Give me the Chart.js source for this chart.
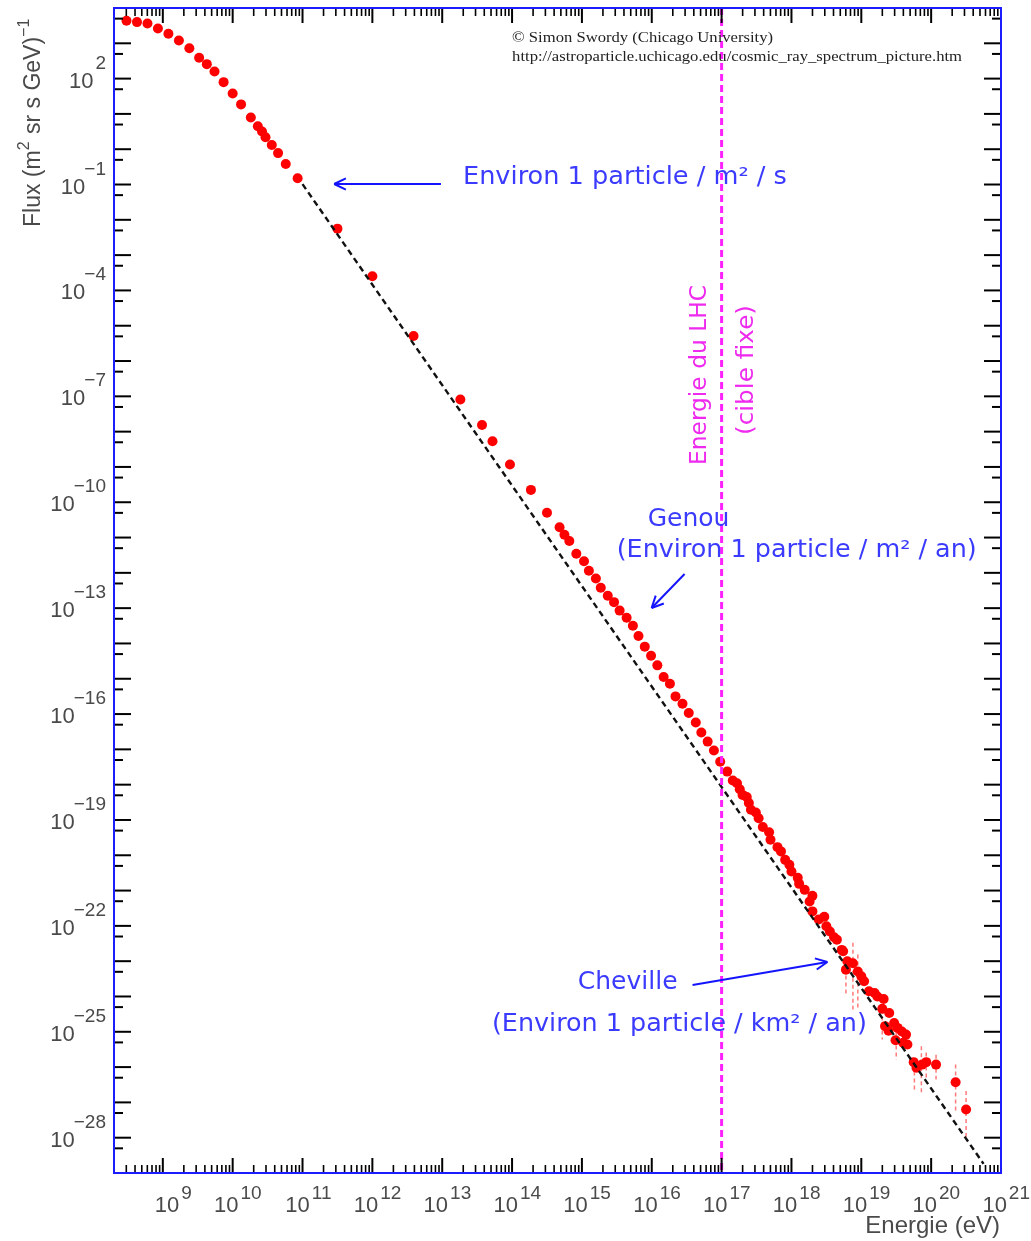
<!DOCTYPE html>
<html><head><meta charset="utf-8">
<script src="https://cdn.jsdelivr.net/npm/chart.js@4.4.1/dist/chart.umd.min.js"></script>
<style>html,body{margin:0;padding:0;background:#fff;}#wrap{width:1031px;height:1241px;position:relative;}</style>
</head><body><div id="wrap"><canvas id="c" width="1031" height="1241"></canvas></div>
<script>
// ---- data (log10 values) ----
const logEnergy = [8.48,8.63,8.78,8.93,9.08,9.23,9.38,9.52,9.63,9.74,
 9.87,10.00,10.12,10.26,10.36,10.42,10.47,10.56,10.65,10.76,
 10.93,11.50,12.00,12.59,13.26,13.57,13.72,13.97,14.27,14.50,
 14.68,14.75,14.82,14.92,15.03,15.10,15.20,15.27,15.37,15.46,
 15.54,15.64,15.73,15.81,15.90,15.99,16.08,16.17,16.26,16.34,
 16.44,16.53,16.63,16.71,16.80,16.89,16.98,17.08,17.16,17.22,
 17.26,17.30,17.36,17.39,17.42,17.49,17.53,17.59,17.68,17.70,
 17.80,17.85,17.91,17.97,18.00,18.09,18.11,18.19,18.26,18.30,
 18.30,18.39,18.47,18.50,18.55,18.61,18.65,18.72,18.74,18.80,
 18.78,18.88,18.95,19.00,19.04,19.11,19.19,19.23,19.32,19.30,
 19.40,19.34,19.39,19.47,19.52,19.58,19.64,19.49,19.60,19.66,
 19.75,19.79,19.87,19.93,20.07,20.35,20.50];
const logFlux = [3.64,3.60,3.56,3.42,3.27,3.08,2.86,2.59,2.41,2.20,
 1.90,1.58,1.27,0.90,0.65,0.50,0.34,0.12,-0.11,-0.42,
 -0.82,-2.25,-3.60,-5.29,-7.09,-7.81,-8.27,-8.93,-9.65,-10.30,
 -10.71,-10.92,-11.10,-11.46,-11.67,-11.94,-12.16,-12.42,-12.65,-12.83,
 -13.07,-13.27,-13.50,-13.79,-14.09,-14.35,-14.62,-14.95,-15.14,-15.50,
 -15.71,-15.97,-16.24,-16.52,-16.78,-17.03,-17.35,-17.63,-17.88,-17.96,
 -18.13,-18.29,-18.35,-18.52,-18.71,-18.79,-18.95,-19.20,-19.35,-19.56,
 -19.77,-19.89,-20.13,-20.27,-20.46,-20.64,-20.81,-20.98,-21.31,-21.15,
 -21.59,-21.82,-21.74,-22.01,-22.16,-22.32,-22.39,-22.68,-22.72,-23.00,
 -23.24,-23.06,-23.29,-23.43,-23.57,-23.85,-23.90,-24.00,-24.07,-24.35,
 -24.47,-24.84,-24.97,-24.75,-24.89,-24.99,-25.08,-25.24,-25.31,-25.36,
 -25.86,-26.02,-25.93,-25.86,-25.93,-26.43,-27.20];
const errLogEnergy = [18.78,18.88,18.95,19.30,19.50,19.76,19.86,19.93,20.07,20.35,20.50];
const errLogHigh   = [-23.01,-22.48,-22.81,-24.37,-24.99,-25.93,-25.41,-25.59,-25.65,-25.93,-26.68];
const errLogLow    = [-23.95,-24.37,-24.37,-25.22,-25.79,-26.72,-26.73,-26.35,-26.35,-27.29,-28.05];
const refLineLogE = [11.0, 20.75];
const refLineLogF = [-0.99, -28.74];
const lhcLogE = 17;
const xRange = [2e8, 1e21];
const yRange = [1e-29, 1e4];
const xTickExponents = [9,10,11,12,13,14,15,16,17,18,19,20,21];
const yTickExponents = [2,-1,-4,-7,-10,-13,-16,-19,-22,-25,-28];
const xTitle = "Energie (eV)";
const yTitleParts = ["Flux (m", "2", " sr s GeV)", "\u22121"];

const P = v => Math.pow(10, v);
const points = logEnergy.map((e,i)=>({x:P(e), y:P(logFlux[i])}));
const refLine = refLineLogE.map((e,i)=>({x:P(e), y:P(refLineLogF[i])}));
const lhcLine = [{x:P(lhcLogE), y:yRange[1]}, {x:P(lhcLogE), y:yRange[0]}];

function seg(ctx,x1,y1,x2,y2){ctx.beginPath();ctx.moveTo(x1,y1);ctx.lineTo(x2,y2);ctx.stroke();}
function fitText(ctx,text,x,y,w,font,align){
  ctx.font = font; const m = ctx.measureText(text).width; const s = w/m;
  ctx.save(); ctx.translate(x,y); ctx.scale(s,1); ctx.textAlign = align; ctx.fillText(text,0,0); ctx.restore();
}
function arrow(ctx,x1,y1,x2,y2){
  seg(ctx,x1,y1,x2,y2);
  const a = Math.atan2(y2-y1,x2-x1), L=13, h=0.45;
  seg(ctx,x2,y2,x2-L*Math.cos(a-h),y2-L*Math.sin(a-h));
  seg(ctx,x2,y2,x2-L*Math.cos(a+h),y2-L*Math.sin(a+h));
}

const decor = {
  id:'decor',
  beforeDatasetsDraw(chart){
    const {ctx, scales:{x,y}} = chart;
    ctx.save(); ctx.strokeStyle='#ff7b7b'; ctx.lineWidth=1.5; ctx.setLineDash([4,3]);
    errLogEnergy.forEach((e,i)=>{
      const px = x.getPixelForValue(P(e));
      seg(ctx,px,y.getPixelForValue(P(errLogHigh[i])),px,y.getPixelForValue(P(errLogLow[i])));
    });
    ctx.restore();
  },
  afterDraw(chart){
    const {ctx, chartArea:a, scales:{x,y}} = chart;
    const X = v=>x.getPixelForValue(P(v)), Y = v=>y.getPixelForValue(P(v));
    ctx.save();
    // ticks
    ctx.strokeStyle='#000';
    for(let d=8; d<=21; d++) for(let m=1; m<=9; m++){
      const v = m*P(d);
      if(v < xRange[0]*0.999 || v > xRange[1]*1.001) continue;
      const px = x.getPixelForValue(v); const len = m===1?15:8;
      ctx.lineWidth = m===1?2:1.6;
      seg(ctx,px,a.bottom,px,a.bottom-len); seg(ctx,px,a.top,px,a.top+len);
    }
    ctx.lineWidth=2;
    for(let n=-29; n<=4; n++){
      [[P(n),17],[5*P(n-1),9]].forEach(([v,len])=>{
        if(v < yRange[0]*0.999 || v > yRange[1]*1.001) return;
        const py = y.getPixelForValue(v);
        seg(ctx,a.left,py,a.left+len,py); seg(ctx,a.right,py,a.right-len,py);
      });
    }
    // frame
    ctx.strokeStyle='#1c1cff'; ctx.lineWidth=2;
    ctx.strokeRect(a.left,a.top,a.right-a.left,a.bottom-a.top);
    // tick labels
    ctx.fillStyle='#4a4a4a'; ctx.textBaseline='alphabetic'; ctx.textAlign='left';
    const baseFont='22px "Liberation Sans", Arial, sans-serif', supFont='19px "Liberation Sans", Arial, sans-serif';
    function pow(exp, right, bBase, bSup){
      const st = exp<0 ? '\u2212'+Math.abs(exp) : String(exp);
      ctx.font=supFont; const sw = ctx.measureText(st).width;
      ctx.font=baseFont; const bw = ctx.measureText('10').width;
      const gap = exp<0 ? -1 : 2;
      const sx = right - sw, bx = sx - gap - bw;
      ctx.fillText('10', bx, bBase); ctx.font=supFont; ctx.fillText(st, sx, bSup);
    }
    xTickExponents.forEach(e=>{ const px = X(e); pow(e, px+29, a.bottom+39, a.bottom+26); });
    yTickExponents.forEach(e=>{ const py = Y(e); pow(e, a.left-8, py+9, py-10); });
    // axis titles
    ctx.font='24px "Liberation Sans", Arial, sans-serif'; ctx.textAlign='right';
    ctx.fillText(xTitle, a.right-1, a.bottom+60);
    ctx.save(); ctx.translate(40, 227); ctx.rotate(-Math.PI/2); ctx.textAlign='left';
    let cx=0;
    yTitleParts.forEach((t,i)=>{
      const sup = i%2===1; ctx.font = sup ? '16px "Liberation Sans", Arial, sans-serif' : '23px "Liberation Sans", Arial, sans-serif';
      ctx.fillText(t, cx, sup?-11:0); cx += ctx.measureText(t).width + (sup?1:0);
    });
    ctx.restore();
    // copyright
    ctx.fillStyle='#222'; ctx.textBaseline='middle';
    fitText(ctx,'\u00a9 Simon Swordy (Chicago University)', X(14.0), Y(3.15), 261, '15px "Liberation Serif", "Times New Roman", serif','left');
    fitText(ctx,'http://astroparticle.uchicago.edu/cosmic_ray_spectrum_picture.htm', X(14.0), Y(2.61), 450, '15px "Liberation Serif", "Times New Roman", serif','left');
    // blue annotations
    const bf = '24px "DejaVu Sans", sans-serif';
    ctx.fillStyle='#3b3bff';
    fitText(ctx,'Environ 1 particle / m\u00b2 / s', X(13.297), Y(-0.815), 324, bf, 'left');
    ctx.font='25px "DejaVu Sans", sans-serif'; ctx.textAlign='center';
    ctx.fillText('Genou', X(16.527), Y(-10.475));
    ctx.fillText('Cheville', X(15.655), Y(-23.618));
    fitText(ctx,'(Environ 1 particle / m\u00b2 / an)', X(15.498), Y(-11.381), 360, bf, 'left');
    fitText(ctx,'(Environ 1 particle / km\u00b2 / an)', X(13.711), Y(-24.808), 375, bf, 'left');
    ctx.strokeStyle='#1414ff'; ctx.lineWidth=2;
    arrow(ctx, X(12.982), Y(-0.985), X(11.453), Y(-0.985));
    arrow(ctx, X(16.470), Y(-12.033), X(15.998), Y(-12.996));
    arrow(ctx, X(16.584), Y(-23.675), X(18.514), Y(-23.023));
    // magenta LHC texts
    ctx.fillStyle='#ee2aee';
    [['Energie du LHC',16.684,-6.396,180],['(cible fixe)',17.370,-6.254,130]].forEach(([t,e,f,w])=>{
      ctx.save(); ctx.translate(X(e), Y(f)); ctx.rotate(-Math.PI/2);
      fitText(ctx,t,0,0,w,'23px "DejaVu Sans", sans-serif','center'); ctx.restore();
    });
    ctx.restore();
  }
};

new Chart(document.getElementById('c'), {
  type:'scatter',
  data:{datasets:[
    {label:'Flux', data:points, pointRadius:5, pointHoverRadius:5, backgroundColor:'#ff0000', borderWidth:0, order:3},
    {label:'E^-2.85', data:refLine, showLine:true, pointRadius:0, borderColor:'#111', borderWidth:2.4, borderDash:[6,4], order:2},
    {label:'LHC', data:lhcLine, showLine:true, pointRadius:0, borderColor:'#ff22ff', borderWidth:3, borderDash:[7,4], order:1}
  ]},
  options:{
    responsive:false, animation:false, devicePixelRatio:1,
    layout:{padding:{left:114, right:30, top:8, bottom:68}},
    plugins:{legend:{display:false}, tooltip:{enabled:false}},
    scales:{
      x:{type:'logarithmic', min:xRange[0], max:xRange[1], display:false},
      y:{type:'logarithmic', min:yRange[0], max:yRange[1], display:false}
    }
  },
  plugins:[decor]
});
</script></body></html>
